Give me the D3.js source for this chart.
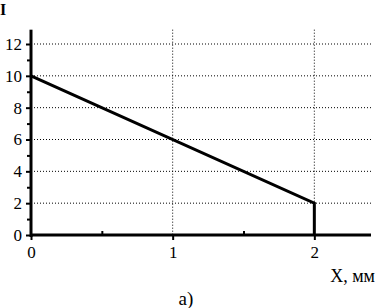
<!DOCTYPE html>
<html><head><meta charset="utf-8">
<script src="https://cdn.jsdelivr.net/npm/d3@7"></script>
<style>body{margin:0;background:#fff}svg{display:block}text{font-family:"Liberation Serif","Times New Roman",serif !important;fill:#000}</style>
</head><body><svg id="c" width="377" height="308"></svg>
<script>
const xs = [0, 2, 2];
const ys = [10, 2, 0];
const xTicks = [0, 1, 2];
const xMinor = [0.5, 1.5];
const yTicks = [0, 2, 4, 6, 8, 10, 12];
const yMinor = [1, 3, 5, 7, 9, 11];
const xLabel = "X, мм";
const yLabel = "I";
const caption = "а)";

const svg = d3.select("#c");
const x = d3.scaleLinear().domain([0, 2.4]).range([31, 371]);
const y = d3.scaleLinear().domain([0, 12]).range([235, 44]);
const yTop = y(12.9);
const serif = "Liberation Serif, Times New Roman, serif";

const g = svg.append("g");
// grid
g.selectAll(".gh").data(yTicks.filter(d => d > 0)).join("line")
  .attr("x1", x(0)).attr("x2", x(2.4)).attr("y1", d => y(d)).attr("y2", d => y(d))
  .attr("stroke", "#000").attr("stroke-width", 1).attr("stroke-dasharray", "1,2");
g.selectAll(".gv").data(xTicks.filter(d => d > 0)).join("line")
  .attr("x1", d => x(d)).attr("x2", d => x(d)).attr("y1", yTop).attr("y2", y(0))
  .attr("stroke", "#000").attr("stroke-width", 1).attr("stroke-dasharray", "1,2");

// axes
const yAxis = d3.axisLeft(y).tickValues(yTicks).tickSize(5).tickFormat(d3.format("d"));
const ya = g.append("g").attr("transform", `translate(${x(0)},0)`).call(yAxis)
  .attr("font-family", serif).attr("font-size", 17);
ya.select(".domain").remove();
ya.selectAll("text").attr("dx", -1);
ya.selectAll("line").attr("stroke-width", 2);
g.append("g").attr("transform", `translate(${x(0)},0)`)
  .call(d3.axisLeft(y).tickValues(yMinor).tickSize(4).tickFormat(""))
  .call(s => { s.select(".domain").remove(); s.selectAll("line").attr("stroke-width", 2); });

const xAxis = d3.axisBottom(x).tickValues(xTicks).tickSize(5).tickFormat(d3.format("d"));
const xa = g.append("g").attr("transform", `translate(0,${y(0)})`).call(xAxis)
  .attr("font-family", serif).attr("font-size", 17);
xa.select(".domain").remove();
xa.selectAll("text").attr("dy", "0.9em");
xa.selectAll("line").attr("stroke-width", 2);
g.append("g").attr("transform", `translate(0,${y(0)})`)
  .call(d3.axisTop(x).tickValues(xMinor).tickSize(4).tickFormat(""))
  .call(s => { s.select(".domain").remove(); s.selectAll("line").attr("stroke-width", 2); });

g.append("line").attr("x1", x(0)).attr("x2", x(0)).attr("y1", yTop).attr("y2", y(0) + 2)
  .attr("stroke", "#000").attr("stroke-width", 3);
g.append("line").attr("x1", x(0)).attr("x2", x(2.4)).attr("y1", y(0)).attr("y2", y(0))
  .attr("stroke", "#000").attr("stroke-width", 3);

// data line
const pts = xs.map((v, i) => [v, ys[i]]);
g.append("path").datum(pts)
  .attr("d", d3.line().x(d => x(d[0])).y(d => y(d[1])))
  .attr("fill", "none").attr("stroke", "#000").attr("stroke-width", 3);

svg.append("text").attr("x", 0).attr("y", 15).attr("font-size", 16).attr("font-weight", "bold").text(yLabel);
svg.append("text").attr("x", 375).attr("y", 282).attr("font-size", 18).attr("text-anchor", "end").text(xLabel);
svg.append("text").attr("x", 186).attr("y", 305).attr("font-size", 19).attr("text-anchor", "middle").text(caption);
</script></body></html>
